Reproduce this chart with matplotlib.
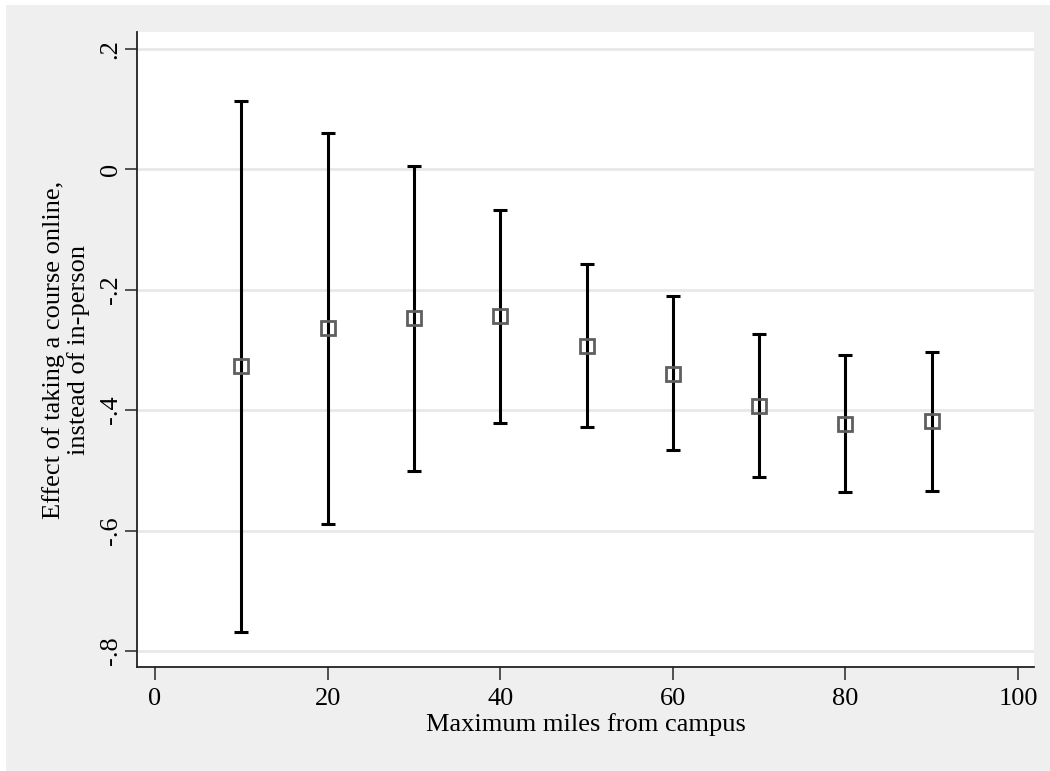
import matplotlib.pyplot as plt
from matplotlib.patches import Rectangle

# distance cutoffs and estimates with 95% CI
miles = [10, 20, 30, 40, 50, 60, 70, 80, 90]
effect = [-0.327, -0.263, -0.247, -0.2435, -0.293, -0.340, -0.393, -0.423, -0.418]
ci_low = [-0.768, -0.5896, -0.5005, -0.4218, -0.428, -0.467, -0.511, -0.536, -0.534]
ci_high = [0.1136, 0.0605, 0.0056, -0.0674, -0.157, -0.211, -0.273, -0.309, -0.303]

yticks = [0.2, 0, -0.2, -0.4, -0.6, -0.8]
ytick_labels = [".2", "0", "-.2", "-.4", "-.6", "-.8"]
xticks = [0, 20, 40, 60, 80, 100]

plt.rcParams['font.family'] = ['Liberation Serif', 'DejaVu Serif']

fig = plt.figure(figsize=(10.5, 7.71), dpi=100, facecolor="white")
fig.patches.append(Rectangle((6 / 1050, 0), 1, (771 - 5) / 771, transform=fig.transFigure,
                             facecolor="#efefef", edgecolor="none", zorder=-10))
ax = fig.add_axes([137 / 1050, (771 - 667) / 771, (1034 - 137) / 1050, (667 - 32) / 771])
ax.set_facecolor("white")

lower = [e - l for e, l in zip(effect, ci_low)]
upper = [h - e for e, h in zip(effect, ci_high)]
ax.errorbar(miles, effect, yerr=[lower, upper], fmt="none", ecolor="black",
            elinewidth=2.2, capsize=5, capthick=2.2, zorder=3)
ax.plot(miles, effect, linestyle="none", marker="s", markersize=10,
        markerfacecolor="none", markeredgecolor="#5f5f5f", markeredgewidth=2, zorder=4)

ax.set_xlim(-2.09, 101.85)
ax.set_ylim(-0.8266, 0.228)
ax.set_xticks(xticks)
ax.set_yticks(yticks)
ax.set_yticklabels(ytick_labels, rotation=90, va="center")
ax.grid(axis="y", color="#e8e8e8", linewidth=2)
ax.set_axisbelow(True)

for side in ["top", "right"]:
    ax.spines[side].set_visible(False)
for side in ["left", "bottom"]:
    ax.spines[side].set_linewidth(1.3)
    ax.spines[side].set_color("#222222")
ax.tick_params(direction="out", length=9, width=1.3, color="#444444", labelsize=19, pad=6)
ax.tick_params(axis="y", pad=2)

ax.set_xlabel("Maximum miles from campus", fontsize=19, labelpad=2)
ax.set_ylabel("Effect of taking a course online,\ninstead of in-person", fontsize=19,
              linespacing=1.1, labelpad=7)

plt.savefig("out.png", dpi=100, facecolor=fig.get_facecolor())
